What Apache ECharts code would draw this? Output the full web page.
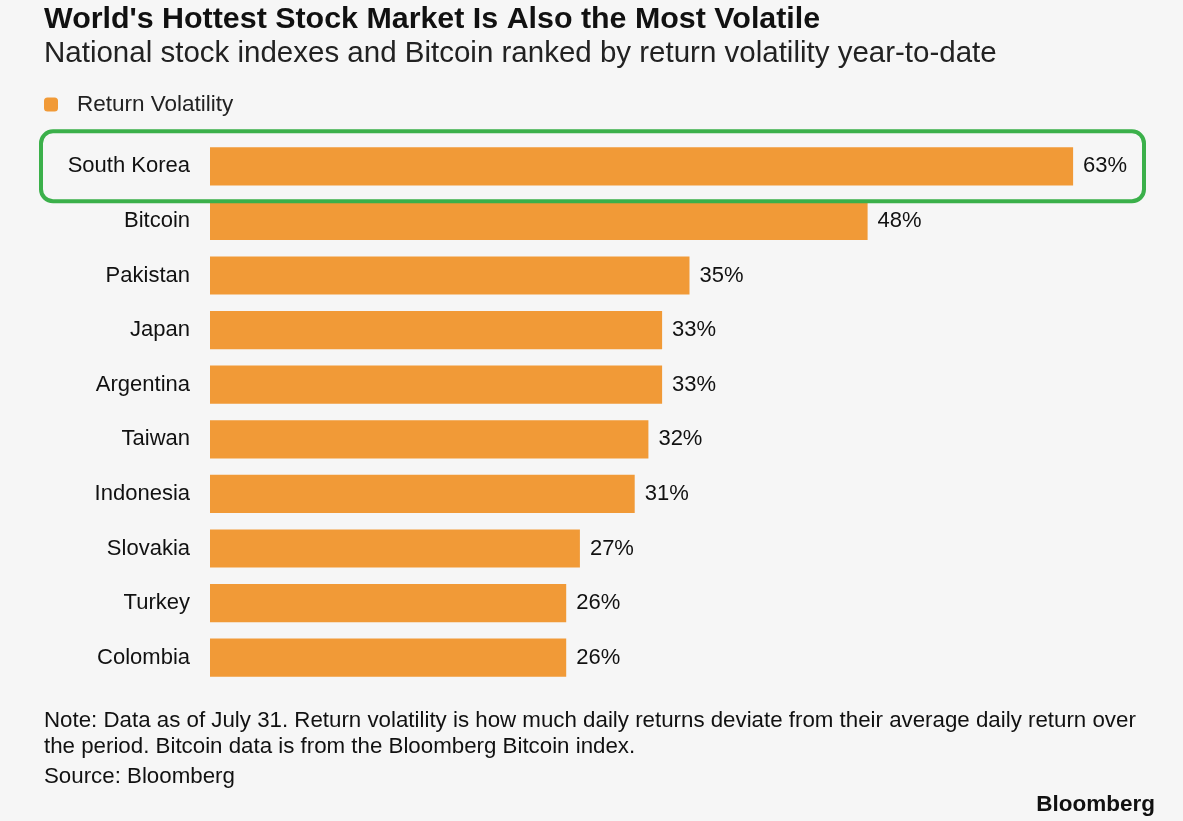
<!DOCTYPE html>
<html><head><meta charset="utf-8">
<script src="https://cdn.jsdelivr.net/npm/echarts@6/dist/echarts.min.js"></script>
<style>html,body{margin:0;padding:0;background:#f6f6f6;}#c{width:1183px;height:821px;}</style>
</head><body><div id="c"></div>
<script>
const categories = ['South Korea','Bitcoin','Pakistan','Japan','Argentina','Taiwan','Indonesia','Slovakia','Turkey','Colombia'];
const volatility = [63,48,35,33,33,32,31,27,26,26];
const seriesName = 'Return Volatility';
const titleText = "World's Hottest Stock Market Is Also the Most Volatile";
const subtitleText = 'National stock indexes and Bitcoin ranked by return volatility year-to-date';
const noteLines = ['Note: Data as of July 31. Return volatility is how much daily returns deviate from their average daily return over','the period. Bitcoin data is from the Bloomberg Bitcoin index.'];
const sourceText = 'Source: Bloomberg';
const brandText = 'Bloomberg';

const FONT = '"Liberation Sans", Arial, sans-serif';
const chart = echarts.init(document.getElementById('c'), null, {renderer:'canvas'});
chart.setOption({
  backgroundColor:'#f6f6f6',
  animation:false,
  textStyle:{fontFamily:FONT},
  title:[
    {text:titleText, left:44, top:5, padding:0, textStyle:{fontSize:30.4, fontWeight:'bold', color:'#111', fontFamily:FONT}},
    {text:subtitleText, left:44, top:39, padding:0, textStyle:{fontSize:29.5, fontWeight:'normal', color:'#222', fontFamily:FONT}}
  ],
  legend:{left:39, top:88, itemWidth:14, itemHeight:14, icon:'roundRect',
    textStyle:{fontSize:22.5, color:'#222', fontFamily:FONT, padding:[0,0,0,14]}, data:[seriesName]},
  grid:{left:210, top:139, width:959, height:546, containLabel:false},
  xAxis:{type:'value', min:0, max:70, show:false},
  yAxis:{type:'category', data:categories, inverse:true,
    axisLine:{show:false}, axisTick:{show:false}, splitLine:{show:false},
    axisLabel:{fontSize:22, color:'#111', margin:20, fontFamily:FONT, padding:[0,0,7,0]}},
  series:[{
    name:seriesName, type:'bar', data:volatility, barCategoryGap:'30%',
    itemStyle:{color:'#f19a37'},
    label:{show:true, position:'right', distance:10, formatter:'{c}%', fontSize:22, color:'#111', fontFamily:FONT}
  }]
});
const yTop = chart.convertToPixel({yAxisIndex:0}, categories[0]);
chart.setOption({
  graphic:[
    {type:'rect', shape:{x:41, y:yTop-35, width:1103, height:70, r:12},
      style:{fill:'none', stroke:'#3bb04a', lineWidth:4}, z:10},
    {type:'text', left:44, top:708, style:{text:noteLines.join('\n'), fontSize:22.3, lineHeight:26, fill:'#111', fontFamily:FONT}},
    {type:'text', left:44, top:766, style:{text:sourceText, fontSize:22.3, fill:'#111', fontFamily:FONT}},
    {type:'text', right:28, top:793, style:{text:brandText, fontSize:22.5, fontWeight:'bold', fill:'#111', fontFamily:FONT}}
  ]
});
</script></body></html>
